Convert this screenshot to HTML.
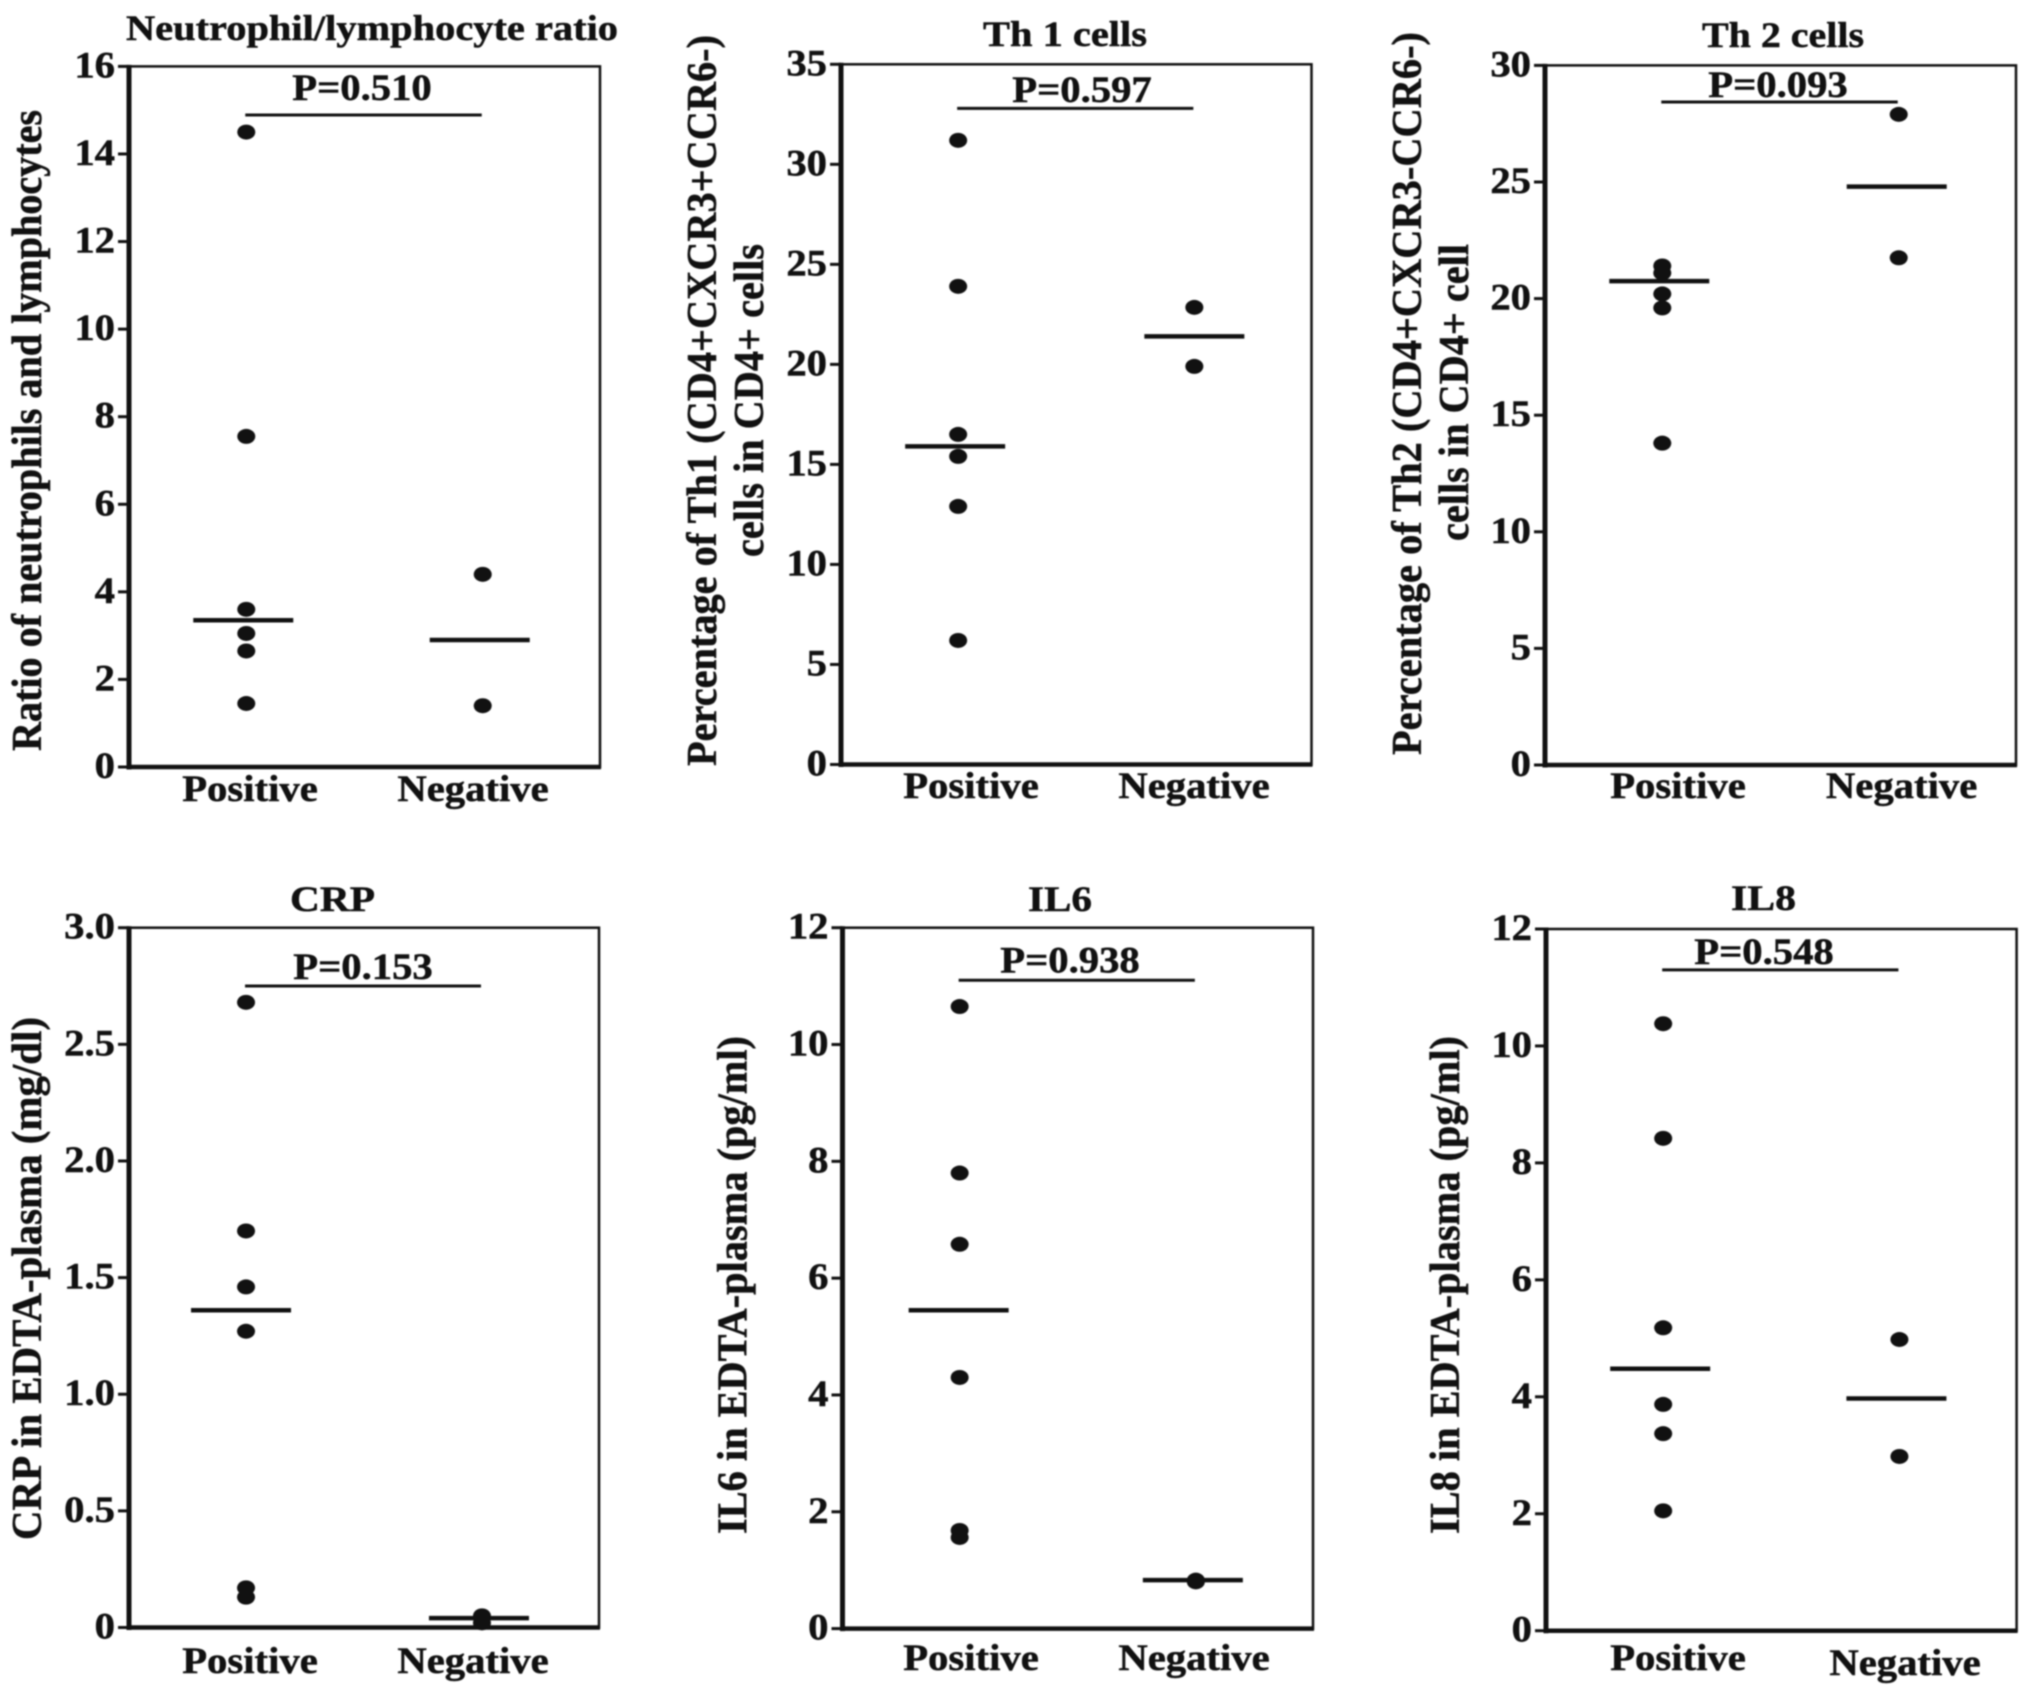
<!DOCTYPE html>
<html lang="en">
<head>
<meta charset="utf-8">
<title>Dot plots of immune markers by group</title>
<style>
  html, body { margin: 0; padding: 0; background: #fff; }
  #figure { display: block; width: 2031px; height: 1696px; filter: blur(0.8px); }
  text { font-family: "Liberation Serif", serif; font-weight: bold; fill: #111; stroke: #111; stroke-width: 0.5px; }
</style>
</head>
<body>
<svg id="figure" xmlns="http://www.w3.org/2000/svg" width="2031" height="1696" viewBox="0 0 2031 1696"></svg>
<script>
const categories = ['Positive', 'Negative'];

const nlrPositive = [14.5, 7.55, 3.6, 3.05, 2.65, 1.45];
const nlrNegative = [4.4, 1.4];
const nlrMeans = [3.35, 2.9];
const nlrTicks = [0, 2, 4, 6, 8, 10, 12, 14, 16];

const th1Positive = [31.2, 23.9, 16.5, 15.4, 12.9, 6.2];
const th1Negative = [22.85, 19.9];
const th1Means = [15.9, 21.4];
const th1Ticks = [0, 5, 10, 15, 20, 25, 30, 35];

const th2Positive = [21.4, 21.1, 20.2, 19.6, 13.8];
const th2Negative = [27.9, 21.75];
const th2Means = [20.75, 24.8];
const th2Ticks = [0, 5, 10, 15, 20, 25, 30];

const crpPositive = [2.68, 1.7, 1.46, 1.27, 0.17, 0.13];
const crpNegative = [0.05, 0.02];
const crpMeans = [1.36, 0.04];
const crpTicks = [0, 0.5, 1, 1.5, 2, 2.5, 3];
const crpTickLabels = ['0', '0.5', '1.0', '1.5', '2.0', '2.5', '3.0'];

const il6Positive = [10.65, 7.8, 6.58, 4.3, 1.68, 1.56];
const il6Negative = [0.83, 0.8];
const il6Means = [5.45, 0.83];
const il6Ticks = [0, 2, 4, 6, 8, 10, 12];

const il8Positive = [10.38, 8.42, 5.18, 3.87, 3.37, 2.05];
const il8Negative = [4.98, 2.98];
const il8Means = [4.48, 3.97];
const il8Ticks = [0, 2, 4, 6, 8, 10, 12];

const panels = [
  { key: 'nlr', title: 'Neutrophil/lymphocyte ratio', pText: 'P=0.510', pLevel: 14.89,
    positive: nlrPositive, negative: nlrNegative, means: nlrMeans, ticks: nlrTicks, tickLabels: nlrTicks,
    yTitles: [{ text: 'Ratio of neutrophils and lymphocytes', x: 41, y0: 110, y1: 751 }],
    box: { l: 129, r: 600, t: 66.4, b: 767 }, titleBox: { x0: 126, x1: 618, y: 40 },
    pBox: { cx: 362, y: 100, barY: 115 }, catX: [250, 473], catY: [801, 801], meanShift: [-3, -3] },
  { key: 'th1', title: 'Th 1 cells', pText: 'P=0.597', pLevel: 32.8,
    positive: th1Positive, negative: th1Negative, means: th1Means, ticks: th1Ticks, tickLabels: th1Ticks,
    yTitles: [{ text: 'Percentage of Th1 (CD4+CXCR3+CCR6-)', x: 716, y0: 35, y1: 766 },
              { text: 'cells in CD4+ cells', x: 763, y0: 244, y1: 557 }],
    box: { l: 841, r: 1311.5, t: 64.3, b: 764.5 }, titleBox: { x0: 983, x1: 1147, y: 46 },
    pBox: { cx: 1082, y: 102, barY: 108 }, catX: [971, 1194], catY: [798, 798], meanShift: [-3, 0] },
  { key: 'th2', title: 'Th 2 cells', pText: 'P=0.093', pLevel: 28.43,
    positive: th2Positive, negative: th2Negative, means: th2Means, ticks: th2Ticks, tickLabels: th2Ticks,
    yTitles: [{ text: 'Percentage of Th2 (CD4+CXCR3-CCR6-)', x: 1421, y0: 32, y1: 755 },
              { text: 'cells in CD4+ cell', x: 1468, y0: 244, y1: 541 }],
    box: { l: 1545, r: 2016, t: 65.4, b: 765 }, titleBox: { x0: 1702, x1: 1864, y: 47 },
    pBox: { cx: 1778, y: 97, barY: 102 }, catX: [1678, 1901.6], catY: [798, 798], meanShift: [-3, -2] },
  { key: 'crp', title: 'CRP', pText: 'P=0.153', pLevel: 2.75,
    positive: crpPositive, negative: crpNegative, means: crpMeans, ticks: crpTicks, tickLabels: crpTickLabels,
    yTitles: [{ text: 'CRP in EDTA-plasma (mg/dl)', x: 41, y0: 1017, y1: 1540 }],
    box: { l: 129, r: 599, t: 927.7, b: 1627.5 }, titleBox: { x0: 290, x1: 375, y: 911 },
    pBox: { cx: 363, y: 979, barY: 986 }, catX: [250, 473], catY: [1673, 1673], meanShift: [-5, -3] },
  { key: 'il6', title: 'IL6', pText: 'P=0.938', pLevel: 11.1,
    positive: il6Positive, negative: il6Negative, means: il6Means, ticks: il6Ticks, tickLabels: il6Ticks,
    yTitles: [{ text: 'IL6 in EDTA-plasma (pg/ml)', x: 746.5, y0: 1036, y1: 1534 }],
    box: { l: 842.5, r: 1313, t: 927.7, b: 1628.6 }, titleBox: { x0: 1028, x1: 1092, y: 911 },
    pBox: { cx: 1070, y: 972.5, barY: 980.5 }, catX: [971, 1194], catY: [1670, 1670], meanShift: [-1, -3] },
  { key: 'il8', title: 'IL8', pText: 'P=0.548', pLevel: 11.3,
    positive: il8Positive, negative: il8Negative, means: il8Means, ticks: il8Ticks, tickLabels: il8Ticks,
    yTitles: [{ text: 'IL8 in EDTA-plasma (pg/ml)', x: 1459, y0: 1036, y1: 1534 }],
    box: { l: 1546, r: 2016.6, t: 929, b: 1630.7 }, titleBox: { x0: 1731, x1: 1796, y: 910 },
    pBox: { cx: 1764, y: 964, barY: 970 }, catX: [1678, 1905], catY: [1670, 1675], meanShift: [-3, -3] }
];

const NS = 'http://www.w3.org/2000/svg';
const INK = '#111';
const STRETCH = 1.1;
const CAT_FRACTION = [0.249, 0.751];
const figure = document.getElementById('figure');

function node(parent, tag, attrs) {
  const el = document.createElementNS(NS, tag);
  for (const k in attrs) el.setAttribute(k, attrs[k]);
  parent.appendChild(el);
  return el;
}
function line(parent, x1, y1, x2, y2, w) {
  return node(parent, 'line', { x1, y1, x2, y2, stroke: INK, 'stroke-width': w });
}
function stretched(parent, str, x, y, size, anchor) {
  const el = node(parent, 'text', {
    transform: 'translate(' + x + ',' + y + ') scale(' + STRETCH + ',1)',
    'font-size': size, 'text-anchor': anchor
  });
  el.textContent = str;
  return el;
}

panels.forEach(function (p) {
  const b = p.box;
  const maxV = p.ticks[p.ticks.length - 1];
  const yScale = function (v) { return b.b - (v / maxV) * (b.b - b.t); };
  const xScale = function (i) { return b.l + CAT_FRACTION[i] * (b.r - b.l); };

  const g = node(figure, 'g', {});
  
  

  const title = node(g, 'text', {
    x: p.titleBox.x0, y: p.titleBox.y, 'font-size': 36,
    textLength: p.titleBox.x1 - p.titleBox.x0, lengthAdjust: 'spacingAndGlyphs'
  });
  title.textContent = p.title;
  
  

  p.yTitles.forEach(function (t) {
    const yt = node(g, 'text', {
      transform: 'translate(' + t.x + ',' + t.y1 + ') rotate(-90)', 'font-size': 42,
      textLength: t.y1 - t.y0, lengthAdjust: 'spacingAndGlyphs'
    });
    yt.textContent = t.text;
    
    
  });

  const frame = node(g, 'rect', {
    x: b.l, y: b.t, width: b.r - b.l, height: b.b - b.t,
    fill: 'none', stroke: INK, 'stroke-width': 2.5
  });
  
  

  const yAxis = line(g, b.l, b.t - 1.5, b.l, b.b + 2.5, 5);
  
  

  const xAxis = line(g, b.l, b.b, b.r + 1, b.b, 4.5);
  
  

  p.ticks.forEach(function (v, i) {
    const y = yScale(v);
    const tick = line(g, b.l - 11, y, b.l, y, 3);
    
    

    const label = stretched(g, String(p.tickLabels[i]), b.l - 14, y + 11, 37, 'end');
    
    
  });

  categories.forEach(function (c, i) {
    const label = stretched(g, c, p.catX[i], p.catY[i], 37, 'middle');
    
    
  });

  [p.positive, p.negative].forEach(function (series, i) {
    series.forEach(function (v) {
      const dot = node(g, 'ellipse', { cx: xScale(i), cy: yScale(v), rx: 9, ry: 7.5, fill: INK });
      
      
    });
  });

  p.means.forEach(function (v, i) {
    const cx = xScale(i) + p.meanShift[i];
    const m = line(g, cx - 50, yScale(v), cx + 50, yScale(v), 4.5);
    
    
  });

  const barY = yScale(p.pLevel);
  const bar = line(g, xScale(0) - 1, barY, xScale(1) - 1, barY, 3);
  
  

  const pLabel = stretched(g, p.pText, p.pBox.cx, p.pBox.y, 37, 'middle');
  
  
});
</script>
</body>
</html>
